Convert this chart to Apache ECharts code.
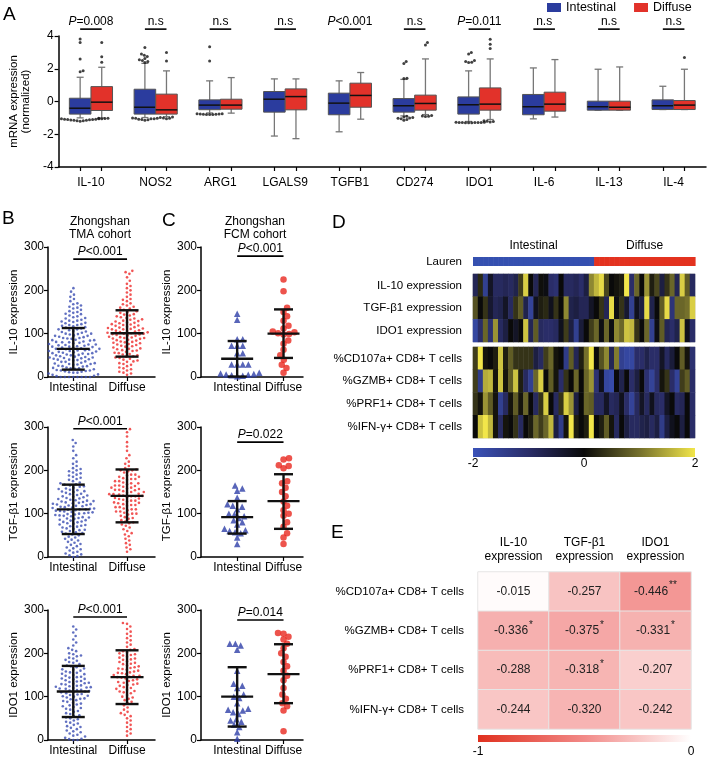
<!DOCTYPE html>
<html><head><meta charset="utf-8">
<script src="https://cdn.jsdelivr.net/npm/echarts@6/dist/echarts.min.js"></script>
<style>html,body{margin:0;padding:0;background:#fff}#c{width:708px;height:758px}</style>
</head><body><div id="c"></div>
<script>
// ================= DATA =================
// ---- Panel A : boxplots [low whisker, Q1, median, Q3, high whisker]
const genes = ['IL-10','NOS2','ARG1','LGALS9','TGFB1','CD274','IDO1','IL-6','IL-13','IL-4'];
const groups = ['Intestinal','Diffuse'];
const boxIntestinal = [
  [-1.0,-0.77,-0.41,0.20,1.48],[-0.98,-0.77,-0.35,0.75,2.33],[-0.70,-0.50,-0.22,0.10,1.26],
  [-2.11,-0.65,0.14,0.61,1.38],[-1.85,-0.81,-0.10,0.51,1.26],[-0.88,-0.65,-0.26,0.18,1.35],
  [-1.22,-0.77,-0.20,0.28,1.87],[-1.06,-0.81,-0.32,0.43,2.05],[-0.53,-0.53,-0.32,0.02,1.97],
  [-0.49,-0.49,-0.26,0.10,0.93]];
const boxDiffuse = [
  [-1.0,-0.55,-0.04,0.91,2.09],[-0.93,-0.77,-0.51,0.45,1.87],[-0.71,-0.47,-0.22,0.14,1.46],
  [-2.27,-0.51,0.30,0.77,1.38],[-1.08,-0.35,0.37,1.12,1.77],[-0.80,-0.53,-0.12,0.39,2.60],
  [-1.10,-0.53,-0.16,0.83,2.60],[-0.95,-0.59,-0.16,0.57,2.56],[-0.53,-0.53,-0.35,0.02,2.11],
  [-0.49,-0.49,-0.22,0.06,1.97]];
const outIntestinal = [
  [3.82,3.6,2.6,1.88,1.82,-1.05,-1.08,-1.1,-1.12,-1.15,-1.18,-1.2,-1.1,-1.06,-1.13,-1.17,-1.09,-1.14],
  [3.3,2.9,2.82,2.75,2.62,2.55,2.5,2.45,2.38,-1.0,-1.02,-1.05,-1.08,-1.1,-1.12,-1.15,-1.06,-1.03],
  [3.35,2.48,-0.75,-0.76,-0.78,-0.8,-0.77,-0.79,-0.75,-0.8,-0.78],
  [],[],
  [2.45,2.32,1.42,1.4,-0.9,-0.95,-1.0,-1.05,-1.1,-1.15,-0.98,-1.02],
  [3.0,2.9,2.5,2.45,2.4,2.38,-1.28,-1.29,-1.3,-1.28,-1.27,-1.3,-1.29,-1.28,-1.3,-1.27],
  [],[],[]];
const outDiffuse = [
  [3.6,2.74,2.4,-1.02,-1.03,-1.05,-1.04],
  [3.0,2.48,-0.95,-0.98,-1.0,-1.02,-1.05],
  [],[],[],
  [3.6,3.45,-0.85,-0.9,-0.92,-0.88],
  [3.8,3.5,3.23,-1.2,-1.22,-1.25,-1.18],
  [],[],[2.68]];
const pLabelsA = ['P=0.008','n.s','n.s','n.s','P<0.001','n.s','P=0.011','n.s','n.s','n.s'];

// ---- Panel B : Zhongshan TMA cohort (individual scores)
const tmaIL10Int = [0,0,0,0,0,0,0,0,
 2,3,5,6,8,10,10,11,12,13,14,15,15,
 16,18,19,20,20,21,22,24,25,25,26,28,29,30,30,31,32,33,35,35,
 36,38,39,40,40,41,42,43,44,45,45,46,47,48,50,50,51,52,53,54,
 55,55,56,57,58,59,60,60,61,62,63,64,65,65,66,67,68,69,70,70,
 71,72,73,74,75,75,76,78,79,80,80,81,82,84,85,85,86,88,89,90,
 90,92,93,95,95,96,98,99,100,100,102,104,105,106,108,110,110,112,114,115,
 117,118,120,120,122,124,125,127,128,130,130,132,135,136,138,140,142,145,146,148,
 150,152,155,158,160,162,165,168,170,175,180,185,190,197,205];
const tmaIL10Dif = [5,8,10,12,15,18,20,22,25,28,30,32,35,36,38,40,42,44,45,47,
 48,50,52,53,55,56,58,60,61,62,64,65,66,68,70,71,72,74,75,76,
 78,79,80,81,82,84,85,86,88,89,90,90,91,92,93,95,96,97,98,99,
 100,100,101,102,103,104,105,106,107,108,110,110,111,112,113,114,115,116,118,119,
 120,121,122,124,125,126,128,129,130,132,133,135,136,138,140,142,144,145,148,150,
 152,155,158,160,162,165,168,170,175,178,180,185,190,195,200,205,210,215,222,230,
 238,242,245];
const tmaTGFInt = [0,2,4,6,8,10,12,15,18,20,22,25,28,30,33,35,38,40,42,45,
 47,50,52,54,55,57,58,60,62,63,65,66,68,70,71,72,74,75,77,78,
 80,81,82,84,85,86,88,89,90,91,92,94,95,96,97,98,99,100,101,102,
 103,104,105,106,107,108,109,110,110,111,112,113,114,115,116,117,118,119,120,121,
 122,123,124,125,126,127,128,129,130,131,132,134,135,136,138,139,140,142,143,145,
 146,148,150,151,152,154,155,157,158,160,162,163,165,167,168,170,172,175,178,180,
 183,185,188,190,193,195,198,200,203,205,210,215,220,228,235,245,255,263,270];
const tmaTGFDif = [12,18,22,28,32,38,42,48,52,55,60,64,68,72,75,78,80,82,85,88,
 90,92,95,98,100,102,105,108,110,112,115,118,120,122,124,126,128,130,132,134,
 136,138,140,141,142,144,145,146,148,150,152,154,155,157,158,160,162,164,165,168,
 170,172,175,178,180,182,185,188,190,195,198,200,202,205,210,215,220,228,235,245,
 255,265,278,288,295,100,110,120,125,135,140,145,150,155,160,165,170,175,180,185,
 190,200,130,115,105];
const tmaIDO1Int = [0,0,2,3,5,8,10,12,15,18,20,22,25,28,30,32,35,38,40,42,
 45,48,50,52,55,57,60,62,65,67,70,72,74,76,78,80,82,84,86,88,
 90,92,94,95,96,98,100,101,102,104,105,106,108,110,110,112,113,114,115,116,
 118,119,120,121,122,123,124,125,126,128,129,130,131,132,134,135,136,138,140,141,
 142,144,145,146,148,150,152,153,155,156,158,160,162,163,165,168,170,172,175,178,
 180,183,185,188,190,193,195,198,200,205,208,212,218,225,232,240,248,255,262];
const tmaIDO1Dif = [10,15,20,25,30,35,40,45,50,55,58,62,65,70,75,80,85,88,92,95,
 98,100,104,108,110,113,116,118,120,122,125,127,130,132,134,136,138,140,142,144,
 145,146,148,150,152,154,156,158,160,162,164,166,168,170,172,175,178,180,182,185,
 188,190,192,195,198,200,202,205,208,210,215,220,225,230,235,240,245,250,256,262,
 268,270,112,128,148,155,165,176,186,196];
// mean ± SD bars: [low, mean, high] for Intestinal, Diffuse
const tmaIL10Stats = [[17,65,113],[47,101,154]];
const tmaTGFStats  = [[53,110,167],[80,141,202]];
const tmaIDO1Stats = [[53,112,171],[83,145,207]];
const pTMA = ['P<0.001','P<0.001','P<0.001'];

// ---- Panel C : Zhongshan FCM cohort
const fcmIL10Int = [146,132,87,87,72,72,72,55,55,29,29,29,29,10,7,5,4,3,2,6,8];
const fcmIL10Dif = [225,198,160,150,140,130,118,112,105,103,101,99,98,84,77,63,50,40,28,21,10];
const fcmTGFInt = [165,158,153,137,122,118,116,110,100,98,94,90,85,80,75,65,62,60,57,55,45,30];
const fcmTGFDif = [228,225,212,210,205,175,170,150,160,140,128,118,108,100,95,80,70,55,45,30];
const fcmIDO1Int = [222,222,218,208,160,130,125,120,105,100,97,85,72,70,68,64,60,48,45,42,35,30,18,3];
const fcmIDO1Dif = [247,245,238,232,222,212,200,192,180,170,160,148,138,120,105,95,85,78,68,20];
const fcmIL10Stats = [[1,42,83],[44,100,156]];
const fcmTGFStats  = [[54,92,129],[65,129,191]];
const fcmIDO1Stats = [[31,100,168],[85,152,221]];
const pFCM = ['P<0.001','P=0.022','P=0.014'];
const expNames = ['IL-10 expression','TGF-β1 expression','IDO1 expression'];

// ---- Panel D : heatmap (z-scores), 24 intestinal + 20 diffuse patients
const nIntestinal = 24, nDiffuse = 20;
const heatIL10  = [-0.8,0.3,-1.5,-0.3,-0.9,-0.9,-0.8,-0.9,-0.7,0.5,1.8,0.0,-0.8,0.05,-0.1,-1.0,-1.1,0.0,-0.9,-0.9,-0.8,-1.0,-0.6,1.2,1.6,1.9,0.6,0.0,0.1,0.2,2.0,-1.0,0.9,0.0,1.3,0.2,0.6,-0.6,0.4,0.9,-0.8,1.8,0.8,-0.9];
const heatTGFB1 = [0.7,0.0,0.4,-0.4,-0.8,-0.7,-0.3,-0.9,0.4,0.8,-0.7,-1.6,-0.2,0.2,0.3,-0.2,0.4,0.0,1.2,-0.7,-0.6,-0.8,-0.8,-0.3,0.0,0.4,-0.8,1.9,-0.1,0.4,-0.4,-1.5,-0.2,-0.6,1.9,-0.7,0.0,0.8,1.9,-1.2,0.9,0.9,1.0,1.8];
const heatIDO1  = [-1.7,-1.0,0.9,-1.1,1.3,-0.9,-0.6,0.0,-0.3,0.0,1.7,-0.8,0.8,-0.9,-1.0,-1.0,-0.9,-0.2,0.5,-0.6,-1.5,-0.5,0.0,0.5,0.9,-0.1,0.9,-0.1,1.2,0.9,1.7,1.6,0.4,0.0,0.9,-1.5,-0.1,0.8,-0.8,-1.0,-0.7,1.7,-0.2,-1.0];
const heatCD107a = [0.5,2.0,0.1,0.0,0.2,1.7,0.2,0.8,0.4,0.4,0.4,0.4,-0.6,-0.9,0.5,0.9,0.1,0.0,-1.4,0.8,-0.8,0.2,1.0,2.0,0.0,0.7,1.2,-0.8,1.1,-1.5,-1.7,-1.7,-1.0,-1.0,-0.7,-1.0,-1.0,-0.3,-0.9,-0.5,0.0,0.8,0.1,-1.1];
const heatGZMB  = [0.5,-1.4,1.5,1.6,0.1,1.7,0.1,0.8,1.7,0.2,-0.9,-1.5,0.9,1.8,0.0,0.8,0.1,-1.0,0.4,0.0,0.9,0.0,0.9,1.3,-1.1,-0.2,-1.7,-1.8,0.0,-0.7,0.0,-1.0,-0.6,0.0,-1.1,-1.6,-1.0,0.1,0.4,-1.0,-1.6,0.5,0.8,-1.0];
const heatPRF1  = [0.4,0.1,1.3,0.8,0.1,-1.5,-0.9,0.1,0.8,0.1,0.9,0.0,-0.9,0.4,1.8,0.0,-0.9,0.4,1.8,1.3,-0.6,0.0,0.9,0.8,-0.9,-0.9,-0.3,-0.9,-0.8,-0.2,-1.0,-1.6,-0.9,-0.3,-0.9,-0.2,-0.9,-1.0,-0.3,0.0,-0.9,-0.8,0.0,-1.0];
const heatIFNG  = [0.0,1.7,2.0,1.6,0.1,-0.9,0.1,0.0,0.4,-0.9,0.0,0.2,0.9,0.5,0.9,1.6,-0.6,-1.4,0.1,2.0,0.2,0.0,0.2,2.0,0.0,0.2,0.8,0.1,-0.9,0.0,-0.6,-0.9,-0.9,-0.7,-0.6,-0.9,-0.6,-1.4,-0.6,-0.2,0.0,-0.6,0.0,-1.0];
const heatRows1 = ['IL-10 expression','TGF-β1 expression','IDO1 expression'];
const heatRows2 = ['%CD107a+ CD8+ T cells','%GZMB+ CD8+ T cells','%PRF1+ CD8+ T cells','%IFN-γ+ CD8+ T cells'];
const heatColors = ['#3a52b8','#2a2d68','#0a0a0a','#75702c','#f2e64a'];

// ---- Panel E : correlation matrix
const corrRows = ['%CD107a+ CD8+ T cells','%GZMB+ CD8+ T cells','%PRF1+ CD8+ T cells','%IFN-γ+ CD8+ T cells'];
const corrCols = ['IL-10\nexpression','TGF-β1\nexpression','IDO1\nexpression'];
const corrIL10  = [-0.015,-0.336,-0.288,-0.244];
const corrTGFB1 = [-0.257,-0.375,-0.318,-0.320];
const corrIDO1  = [-0.446,-0.331,-0.207,-0.242];
const starsIL10  = ['','*','',''];
const starsTGFB1 = ['','*','*',''];
const starsIDO1  = ['**','*','',''];
const corrColors = ['#e0301e','#f28a88','#ffffff'];

// ================= STYLE / LAYOUT =================
const FONT = '"Liberation Sans", Arial, Helvetica, sans-serif';
const BLUE = '#2b3c9e', RED = '#e2322a';
const DOT_BLUE = '#3a4cb2', DOT_RED = '#ee2b2b';
const SIDE = 1/6;   // box offset from category centre (fraction of band)

function swarm(values, pxPerUnit, diam) {
  const idx = values.map((v, i) => i).sort((a, b) => values[a] - values[b]);
  const placed = [], off = new Array(values.length);
  for (const i of idx) {
    const y = values[i] * pxPerUnit;
    const near = placed.filter(p => Math.abs(p.y - y) < diam);
    const cands = [0];
    for (const p of near) { const dx = Math.sqrt(diam * diam - (p.y - y) ** 2); cands.push(p.x + dx, p.x - dx); }
    cands.sort((a, b) => Math.abs(a) - Math.abs(b));
    let x = 0;
    for (const c of cands) {
      if (near.every(p => (p.x - c) ** 2 + (p.y - y) ** 2 >= diam * diam - 1e-6)) { x = c; break; }
    }
    placed.push({ x, y }); off[i] = x;
  }
  return off;
}

const option = {
  animation: false,
  textStyle: { fontFamily: FONT, color: '#000' },
  grid: [], xAxis: [], yAxis: [], series: [], visualMap: [], graphic: [],
  legend: {
    data: groups, left: 542, top: 0, padding: [1, 5], icon: 'rect', itemWidth: 14, itemHeight: 9, itemGap: 18,
    textStyle: { fontSize: 12.5, color: '#000', fontFamily: FONT }
  }
};
function addGrid(g, xa, ya) {
  option.grid.push(g); const gi = option.grid.length - 1;
  xa.gridIndex = gi; ya.gridIndex = gi; option.xAxis.push(xa); option.yAxis.push(ya); return gi;
}
const lineAx = { show: true, onZero: false, lineStyle: { color: '#000', width: 1.5 } };
const tickAx = { show: true, length: 4, lineStyle: { color: '#000', width: 1.2 } };
function ptext(s) {
  return s.charAt(0) === 'P' ? '{i|P}{n|' + s.slice(1) + '}' : '{n|' + s + '}';
}
const pRich = { i: { fontStyle: 'italic', fontSize: 12, fontFamily: FONT, fill: '#000' }, n: { fontSize: 12, fontFamily: FONT, fill: '#000' } };

// ================= PANEL A =================
const gA = addGrid({ left: 47, top: 36, width: 659, height: 131 },
  { type: 'value', min: -0.5, max: 9.5, axisLine: lineAx,
    axisTick: Object.assign({ customValues: genes.flatMap((g, i) => [i - SIDE, i + SIDE]) }, tickAx),
    axisLabel: { customValues: genes.map((g, i) => i), formatter: v => genes[Math.round(v)], fontSize: 12, color: '#000', margin: 10 },
    splitLine: { show: false } },
  { type: 'value', min: -4, max: 4, interval: 2, axisLine: lineAx, axisTick: tickAx,
    axisLabel: { fontSize: 12, color: '#000', margin: 5 }, splitLine: { show: false },
    name: 'mRNA expression\n(normalized)', nameLocation: 'middle', nameGap: 19,
    nameTextStyle: { fontSize: 11.5, lineHeight: 12, color: '#000' } });

function boxRender(side, fill) {
  return function (params, api) {
    const c = api.value(0) + side;
    const P = v => api.coord([c, v]);
    const pl = P(api.value(1)), p1 = P(api.value(2)), pm = P(api.value(3)), p3 = P(api.value(4)), ph = P(api.value(5));
    const bw = api.size([2 * SIDE, 0])[0], x = pl[0], cap = 3.5;
    const ws = { stroke: '#777', lineWidth: 1.3 };
    return { type: 'group', children: [
      { type: 'line', shape: { x1: x, y1: pl[1], x2: x, y2: ph[1] }, style: ws },
      { type: 'line', shape: { x1: x - cap, y1: pl[1], x2: x + cap, y2: pl[1] }, style: ws },
      { type: 'line', shape: { x1: x - cap, y1: ph[1], x2: x + cap, y2: ph[1] }, style: ws },
      { type: 'rect', shape: { x: x - bw / 2, y: p3[1], width: bw, height: p1[1] - p3[1] }, style: { fill: fill, stroke: '#555', lineWidth: 1 } },
      { type: 'line', shape: { x1: x - bw / 2, y1: pm[1], x2: x + bw / 2, y2: pm[1] }, style: { stroke: '#111', lineWidth: 1.5 } }
    ] };
  };
}
[[boxIntestinal, -SIDE, BLUE, groups[0]], [boxDiffuse, SIDE, RED, groups[1]]].forEach(([d, side, col, nm]) => {
  option.series.push({ type: 'custom', name: nm, xAxisIndex: gA, yAxisIndex: gA, itemStyle: { color: col },
    encode: { x: 0, y: [1, 2, 3, 4, 5] }, data: d.map((b, i) => [i].concat(b)), renderItem: boxRender(side, col) });
});
// outliers
const bandA = 659 / 10, pxUnitA = 131 / 8;
[[outIntestinal, -SIDE], [outDiffuse, SIDE]].forEach(([arr, side]) => {
  const pts = [];
  arr.forEach((vals, i) => {
    const off = swarm(vals, pxUnitA, 3.2);
    vals.forEach((v, k) => pts.push([i + side + off[k] / bandA, v]));
  });
  option.series.push({ type: 'scatter', xAxisIndex: gA, yAxisIndex: gA, symbolSize: 3, itemStyle: { color: '#111' }, data: pts, silent: true, z: 3 });
});
// significance labels
const pBarA = 4.42;
option.series.push({ type: 'custom', xAxisIndex: gA, yAxisIndex: gA, clip: false, silent: true,
  data: pLabelsA.map((s, i) => [i, pBarA]),
  renderItem: (params, api) => {
    const i = api.value(0), a = api.coord([i - SIDE, api.value(1)]), b = api.coord([i + SIDE, api.value(1)]);
    return { type: 'group', children: [
      { type: 'line', shape: { x1: a[0], y1: a[1], x2: b[0], y2: b[1] }, style: { stroke: '#000', lineWidth: 1.6 } },
      { type: 'text', x: (a[0] + b[0]) / 2, y: a[1] - 7.5, style: { text: ptext(pLabelsA[params.dataIndex]), rich: pRich, align: 'center', verticalAlign: 'middle', fontSize: 12, fontFamily: FONT, fill: '#000' } }
    ] };
  } });

// ================= PANELS B & C =================
function dotPlot(cfg) {
  const gi = addGrid({ left: cfg.left, top: cfg.top, width: cfg.width, height: 130 },
    { type: 'value', min: cfg.xmin, max: cfg.xmax, axisLine: lineAx,
      axisTick: Object.assign({ customValues: [0, 1] }, tickAx),
      axisLabel: { customValues: [0, 1], formatter: v => groups[Math.round(v)], fontSize: 12, color: '#000', margin: 5 },
      splitLine: { show: false } },
    { type: 'value', min: 0, max: 300, interval: 100, axisLine: lineAx, axisTick: tickAx,
      axisLabel: { fontSize: 12, color: '#000', margin: 4 }, splitLine: { show: false },
      name: cfg.name, nameLocation: 'middle', nameGap: cfg.nameGap, nameTextStyle: { fontSize: 11.5, color: '#000' } });
  const pxY = 130 / 300, pxX = cfg.width / (cfg.xmax - cfg.xmin);
  [[cfg.int, 0, cfg.symA, cfg.colA], [cfg.dif, 1, cfg.symB, cfg.colB]].forEach(([vals, cat, sym, col]) => {
    const off = swarm(vals, pxY, cfg.diam);
    option.series.push({ type: 'scatter', xAxisIndex: gi, yAxisIndex: gi, symbol: sym, symbolSize: cfg.size,
      itemStyle: { color: col }, silent: true, data: vals.map((v, k) => [cat + off[k] / pxX, v]) });
  });
  option.series.push({ type: 'custom', xAxisIndex: gi, yAxisIndex: gi, z: 5, silent: true,
    data: cfg.stats.map((s, i) => [i].concat(s)),
    renderItem: (params, api) => {
      const c = api.value(0), lo = api.coord([c, api.value(1)]), m = api.coord([c, api.value(2)]), hi = api.coord([c, api.value(3)]);
      const st = { stroke: '#111', lineWidth: 2.4 }, x = m[0];
      return { type: 'group', children: [
        { type: 'line', shape: { x1: x, y1: lo[1], x2: x, y2: hi[1] }, style: st },
        { type: 'line', shape: { x1: x - cfg.meanHalf, y1: m[1], x2: x + cfg.meanHalf, y2: m[1] }, style: st },
        { type: 'line', shape: { x1: x - cfg.capHalf, y1: lo[1], x2: x + cfg.capHalf, y2: lo[1] }, style: st },
        { type: 'line', shape: { x1: x - cfg.capHalf, y1: hi[1], x2: x + cfg.capHalf, y2: hi[1] }, style: st }
      ] };
    } });
  option.series.push({ type: 'custom', xAxisIndex: gi, yAxisIndex: gi, clip: false, silent: true,
    data: [[0, cfg.pY]],
    renderItem: (params, api) => {
      const a = api.coord([0, api.value(1)]), b = api.coord([1, api.value(1)]);
      return { type: 'group', children: [
        { type: 'line', shape: { x1: a[0], y1: a[1], x2: b[0], y2: b[1] }, style: { stroke: '#000', lineWidth: 1.6 } },
        { type: 'text', x: (a[0] + b[0]) / 2, y: a[1] - 7.5, style: { text: ptext(cfg.p), rich: pRich, align: 'center', verticalAlign: 'middle', fontSize: 12, fontFamily: FONT, fill: '#000' } }
      ] };
    } });
}
const tops = [247, 427, 610];
const tmaSets = [[tmaIL10Int, tmaIL10Dif, tmaIL10Stats, 272], [tmaTGFInt, tmaTGFDif, tmaTGFStats, 296], [tmaIDO1Int, tmaIDO1Dif, tmaIDO1Stats, 284]];
const fcmSets = [[fcmIL10Int, fcmIL10Dif, fcmIL10Stats, 279], [fcmTGFInt, fcmTGFDif, fcmTGFStats, 265], [fcmIDO1Int, fcmIDO1Dif, fcmIDO1Stats, 277]];
tmaSets.forEach((s, k) => dotPlot({ left: 48, top: tops[k], width: 107, xmin: -0.47, xmax: 1.52, int: s[0], dif: s[1], stats: s[2], pY: s[3], p: pTMA[k],
  name: expNames[k], nameGap: 27, symA: 'circle', symB: 'circle', colA: DOT_BLUE, colB: DOT_RED, size: 2.6, diam: 4.2, meanHalf: 16.5, capHalf: 11.5 }));
fcmSets.forEach((s, k) => dotPlot({ left: 201, top: tops[k], width: 102, xmin: -0.78, xmax: 1.42, int: s[0], dif: s[1], stats: s[2], pY: s[3], p: pFCM[k],
  name: expNames[k], nameGap: 21, symA: 'triangle', symB: 'circle', colA: '#2e3fa8', colB: '#e8281f', size: 6.5, diam: 5.6, meanHalf: 16, capHalf: 9.5 }));

// ================= PANEL D =================
const nCols = nIntestinal + nDiffuse;
const colNames = Array.from({ length: nCols }, (_, i) => String(i + 1));
const laurenGroup = colNames.map((c, i) => (i < nIntestinal ? 0 : 1));
const laurenColors = ['#3550b0', '#e3321f'];
const hideX = { type: 'category', data: colNames, show: false };
const rowAx = (rows) => ({ type: 'category', data: rows, inverse: true, axisLine: { show: false }, axisTick: { show: false },
  axisLabel: { fontSize: 11.5, color: '#000', margin: 11, interval: 0 }, splitLine: { show: false } });
const gL = addGrid({ left: 473, top: 257, width: 222, height: 9 }, Object.assign({}, hideX), rowAx(['Lauren']));
option.series.push({ type: 'custom', xAxisIndex: gL, yAxisIndex: gL, silent: true,
  data: laurenGroup.map((g, i) => [i, 0, g]),
  renderItem: (params, api) => {
    const cs = params.coordSys, p = api.coord([api.value(0), 0]), w = api.size([1, 0])[0];
    return { type: 'rect', shape: { x: p[0] - w / 2, y: cs.y, width: w + 0.6, height: cs.height }, style: { fill: laurenColors[api.value(2)] } };
  } });
option.series.push({ type: 'custom', xAxisIndex: gL, yAxisIndex: gL, clip: false, silent: true,
  data: [[0, nIntestinal - 1, 0], [nIntestinal, nCols - 1, 1]],
  renderItem: (params, api) => {
    const cs = params.coordSys, a = api.coord([api.value(0), 0]), b = api.coord([api.value(1), 0]);
    return { type: 'text', x: (a[0] + b[0]) / 2, y: cs.y - 11, style: { text: groups[api.value(2)], align: 'center', verticalAlign: 'middle', fontSize: 12, fontFamily: FONT, fill: '#000' } };
  } });
const heat1 = [heatIL10, heatTGFB1, heatIDO1];
const heat2 = [heatCD107a, heatGZMB, heatPRF1, heatIFNG];
const gH1 = addGrid({ left: 473, top: 274, width: 222, height: 68, show: true, borderColor: '#cfcfcf', borderWidth: 1 }, Object.assign({}, hideX), rowAx(heatRows1));
const gH2 = addGrid({ left: 473, top: 347, width: 222, height: 91, show: true, borderColor: '#cfcfcf', borderWidth: 1 }, Object.assign({}, hideX), rowAx(heatRows2));
const hIdx1 = option.series.length;
option.series.push({ type: 'heatmap', xAxisIndex: gH1, yAxisIndex: gH1, silent: true,
  data: heat1.flatMap((row, r) => row.map((v, c) => [c, r, v])) });
option.series.push({ type: 'heatmap', xAxisIndex: gH2, yAxisIndex: gH2, silent: true,
  data: heat2.flatMap((row, r) => row.map((v, c) => [c, r, v])) });
option.visualMap.push({ type: 'continuous', show: false, min: -2, max: 2, seriesIndex: [hIdx1, hIdx1 + 1], inRange: { color: heatColors } });
function colorBar(g, min, max, interval, colors, margin) {
  const gi = addGrid(g,
    { type: 'value', min: min, max: max, interval: interval, axisLine: { show: false }, axisTick: { show: false },
      axisLabel: { fontSize: 12, color: '#000', margin: margin }, splitLine: { show: false } },
    { type: 'value', min: 0, max: 1, show: false });
  option.series.push({ type: 'custom', xAxisIndex: gi, yAxisIndex: gi, silent: true, data: [[min, max]],
    renderItem: (params, api) => {
      const a = api.coord([api.value(0), 0]), b = api.coord([api.value(1), 1]);
      return { type: 'rect', shape: { x: a[0], y: b[1], width: b[0] - a[0], height: a[1] - b[1] },
        style: { fill: new echarts.graphic.LinearGradient(0, 0, 1, 0, colors.map((c, i) => ({ offset: i / (colors.length - 1), color: c }))) } };
    } });
}
colorBar({ left: 473, top: 448, width: 222, height: 9 }, -2, 2, 2, heatColors, 1);

// ================= PANEL E =================
const corrCols3 = [corrIL10, corrTGFB1, corrIDO1];
const stars3 = [starsIL10, starsTGFB1, starsIDO1];
const gE = addGrid({ left: 478, top: 572, width: 213, height: 157 },
  { type: 'category', data: corrCols, position: 'top', axisLine: { show: false }, axisTick: { show: false },
    axisLabel: { fontSize: 12, color: '#000', lineHeight: 14, margin: 8, interval: 0 }, splitLine: { show: false } },
  { type: 'category', data: corrRows, inverse: true, axisLine: { show: false }, axisTick: { show: false },
    axisLabel: { fontSize: 11.5, color: '#000', margin: 14, interval: 0 }, splitLine: { show: false } });
const eIdx = option.series.length;
option.series.push({ type: 'heatmap', xAxisIndex: gE, yAxisIndex: gE, silent: true,
  itemStyle: { borderColor: '#e6e6e6', borderWidth: 1 },
  label: { show: true, formatter: p => {
      const s = stars3[p.value[0]][p.value[1]];
      return '{v|' + p.value[2].toFixed(3) + '}' + (s ? '{s|' + s + '}' : '');
    },
    rich: { v: { fontSize: 12, color: '#222', fontFamily: FONT, lineHeight: 22 }, s: { fontSize: 10, color: '#222', fontFamily: FONT, verticalAlign: 'top', lineHeight: 12, padding: [0, 0, 0, 1] } } },
  data: corrCols3.flatMap((col, c) => col.map((v, r) => [c, r, v])) });
option.visualMap.push({ type: 'continuous', show: false, min: -1, max: 0, seriesIndex: [eIdx], inRange: { color: corrColors } });
colorBar({ left: 478, top: 735, width: 213, height: 8 }, -1, 0, 1, corrColors, 4);

// ================= TEXT (panel letters, cohort titles) =================
const txt = (x, y, t, size, align) => ({ type: 'text', x: x, y: y, silent: true,
  style: { text: t, fontSize: size, fontFamily: FONT, fill: '#000', align: align || 'left', verticalAlign: 'middle', lineHeight: 13.5 } });
option.graphic = [
  txt(3, 15, 'A', 19), txt(2, 219, 'B', 19), txt(162, 221, 'C', 19), txt(332, 223, 'D', 19), txt(331, 533, 'E', 19),
  txt(100, 228, 'Zhongshan\nTMA cohort', 12, 'center'),
  txt(255, 228, 'Zhongshan\nFCM cohort', 12, 'center')
];

const chart = echarts.init(document.getElementById('c'), null, { renderer: 'canvas' });
chart.setOption(option);
</script>
</body></html>
